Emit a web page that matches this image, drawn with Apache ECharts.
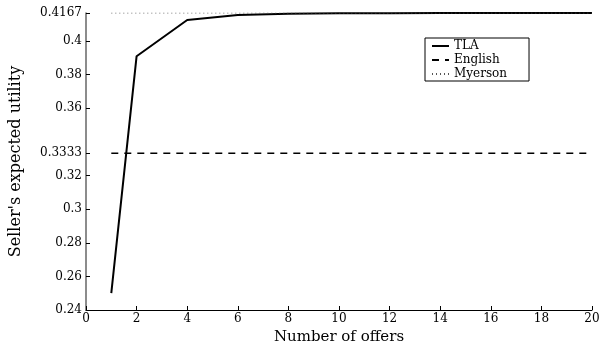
<!DOCTYPE html>
<html><head><meta charset="utf-8">
<script src="https://cdn.jsdelivr.net/npm/echarts@6/dist/echarts.min.js"></script>
<style>html,body{margin:0;padding:0;background:#fff}#c{width:601px;height:341px}</style>
</head><body><div id="c"></div>
<script>
const offers = [1, 2, 4, 6, 8, 10, 12, 14, 16, 18, 20];
const tla = [0.25, 0.391, 0.4125, 0.4155, 0.4162, 0.4165, 0.4166, 0.4167, 0.4167, 0.4167, 0.4167];
const englishX = [1, 20];
const englishY = [0.3333, 0.3333];
const myersonX = [1, 20];
const myersonY = [0.4167, 0.4167];
const yTicks = [0.24, 0.26, 0.28, 0.3, 0.32, 0.3333, 0.36, 0.38, 0.4, 0.4167];

const font = 'DejaVu Serif';
const chart = echarts.init(document.getElementById('c'));
chart.setOption({
  animation: false,
  grid: {left: 86, right: 9, top: 13, bottom: 31, containLabel: false, outerBoundsMode: 'none'},
  textStyle: {fontFamily: font},
  legend: {
    orient: 'vertical', left: 425, top: 38,
    padding: [1, 22, 0, 6],
    borderColor: '#000', borderWidth: 1,
    itemWidth: 17, itemHeight: 10, itemGap: 0,
    itemStyle: {opacity: 0},
    textStyle: {fontFamily: font, fontSize: 12, color: '#000', lineHeight: 14, height: 14},
    data: ['TLA', 'English', 'Myerson']
  },
  xAxis: {
    type: 'value', min: 0, max: 20, interval: 2,
    name: 'Number of offers', nameLocation: 'middle', nameGap: 10,
    nameTextStyle: {fontFamily: font, fontSize: 15, color: '#000'},
    axisLine: {lineStyle: {color: '#000', width: 1}},
    axisTick: {inside: true, length: 4, lineStyle: {color: '#000'}},
    axisLabel: {fontFamily: font, fontSize: 12, color: '#000', margin: 3},
    splitLine: {show: false}
  },
  yAxis: {
    type: 'value', min: 0.24, max: 0.4167,
    name: "Seller's expected utility", nameLocation: 'middle', nameGap: 62,
    nameTextStyle: {fontFamily: font, fontSize: 16, color: '#000'},
    axisLine: {show: true, lineStyle: {color: '#666', width: 1.5}},
    axisTick: {inside: true, length: 4, customValues: yTicks, lineStyle: {color: '#000'}},
    axisLabel: {fontFamily: font, fontSize: 12, color: '#000', margin: 4, customValues: yTicks,
      formatter: v => String(+(+v).toFixed(4))},
    splitLine: {show: false}
  },
  series: [
    {name: 'TLA', type: 'line', symbol: 'none', data: offers.map((x, i) => [x, tla[i]]),
     lineStyle: {color: '#000', width: 2}, itemStyle: {color: '#000'}},
    {name: 'English', type: 'line', symbol: 'none', data: englishX.map((x, i) => [x, englishY[i]]),
     lineStyle: {color: '#000', width: 1.5, type: [7, 6]}, itemStyle: {color: '#000'}},
    {name: 'Myerson', type: 'line', symbol: 'none', data: myersonX.map((x, i) => [x, myersonY[i]]),
     lineStyle: {color: '#555', width: 1.2, type: [1, 3]}, itemStyle: {color: '#555'}}
  ]
});
</script></body></html>
